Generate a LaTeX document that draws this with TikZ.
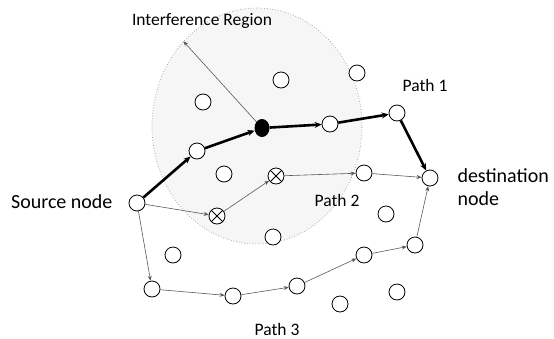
\documentclass[tikz,border=0pt]{standalone}
\usepackage{fontspec}
\setmainfont{Carlito}
\usetikzlibrary{arrows.meta, positioning, shapes.geometric}

\begin{document}
\begin{tikzpicture}[
        x=1pt, y=-1pt,
        relay/.style={circle, draw, fill=white, inner sep=0pt, minimum size=16pt, line width=0.8pt},
        hot/.style={ellipse, fill=black, inner sep=0pt, minimum width=15pt, minimum height=18pt},
        blocked/.style={relay, path picture={
            \draw[line width=0.8pt] (path picture bounding box.south west) -- (path picture bounding box.north east)
                                    (path picture bounding box.north west) -- (path picture bounding box.south east);}},
        region/.style={ellipse, draw=gray!80, dotted, line width=0.7pt, fill=gray!7, inner sep=0pt},
        main/.style={->, line width=2.6pt, >={Stealth[length=7pt, width=6pt]}},
        alt/.style={->, line width=0.6pt, draw=black!65, >={Stealth[length=5pt, width=4pt]}},
        big/.style={font=\fontsize{20}{23}\selectfont},
        small/.style={font=\fontsize{17.5}{20}\selectfont}
      ]
      \useasboundingbox (0,0) rectangle (554,338);

      % Interference region
      \node[region, minimum width=210pt, minimum height=236pt] (zone) at (257,126) {};

      % Source and destination
      \node[relay] (src) at (137,203) {};
      \node[relay] (dst) at (430,178) {};

      % Path 1 relays
      \node[relay] (a1) at (197,151) {};
      \node[hot] (a2) at (262,128) {};
      \node[relay] (a3) at (330,124) {};
      \node[relay] (a4) at (397,113) {};

      % Path 2 relays
      \node[blocked] (b1) at (217,216) {};
      \node[blocked] (b2) at (276,176) {};
      \node[relay] (b3) at (364,173) {};

      % Path 3 relays
      \node[relay] (c1) at (152,289) {};
      \node[relay] (c2) at (233,296) {};
      \node[relay] (c3) at (297,286) {};
      \node[relay] (c4) at (364,255) {};
      \node[relay] (c5) at (415,245) {};

      % Idle nodes
      \node[relay] (n1) at (203,102) {};
      \node[relay] (n2) at (281,80) {};
      \node[relay] (n3) at (357,73) {};
      \node[relay] (n4) at (224,174) {};
      \node[relay] (n5) at (273,237) {};
      \node[relay] (n6) at (386,214) {};
      \node[relay] (n7) at (173,255) {};
      \node[relay] (n8) at (340,304) {};
      \node[relay] (n9) at (397,292) {};

      % Labels
      \node[small] (zonelbl) at (202,21) {Interference Region};
      \node[small] (p1lbl) at (425,85) {Path 1};
      \node[small] (p2lbl) at (337,200) {Path 2};
      \node[small] (p3lbl) at (277,329) {Path 3};
      \node[big, anchor=east] (srclbl) at (116,202) {Source node};
      \node[big, anchor=west, align=left] (dstlbl) at (454,187) {destination\\node};

      % Radius
      \draw[alt] (a2) -- (zone.131);

      % Connections
      \draw[main] (src) -- (a1);
      \draw[main] (a1) -- (a2);
      \draw[main] (a2) -- (a3);
      \draw[main] (a3) -- (a4);
      \draw[main] (a4) -- (dst);
      \draw[alt] (src) -- (b1);
      \draw[alt] (b1) -- (b2);
      \draw[alt] (b2) -- (b3);
      \draw[alt] (b3) -- (dst);
      \draw[alt] (src) -- (c1);
      \draw[alt] (c1) -- (c2);
      \draw[alt] (c2) -- (c3);
      \draw[alt] (c3) -- (c4);
      \draw[alt] (c4) -- (c5);
      \draw[alt] (c5) -- (dst);

      \end{tikzpicture}
\end{document}
